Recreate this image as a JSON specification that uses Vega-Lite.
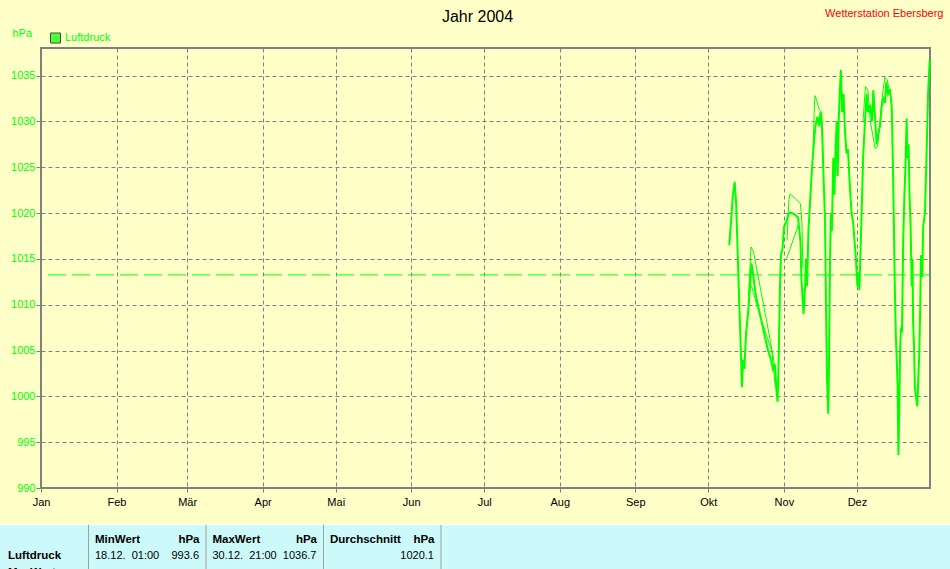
{
  "$schema": "https://vega.github.io/schema/vega-lite/v6.json",
  "width": 889,
  "height": 440,
  "autosize": {"type": "none"},
  "padding": {"left": 41, "top": 48, "right": 20, "bottom": 81},
  "background": "#FFFFC8",
  "config": {
    "font": "Liberation Sans",
    "view": {"stroke": "#808080", "strokeWidth": 2, "fill": "#FFFFC8"}
  },
  "datasets": {
    "main": [
      {"t": "2004-10-09 14:00", "p": 1016.5, "s": "Luftdruck"},
      {"t": "2004-10-10 07:00", "p": 1019, "s": "Luftdruck"},
      {"t": "2004-10-11 02:00", "p": 1022, "s": "Luftdruck"},
      {"t": "2004-10-11 19:00", "p": 1023.4, "s": "Luftdruck"},
      {"t": "2004-10-12 10:00", "p": 1021, "s": "Luftdruck"},
      {"t": "2004-10-13 00:00", "p": 1016, "s": "Luftdruck"},
      {"t": "2004-10-13 14:00", "p": 1011, "s": "Luftdruck"},
      {"t": "2004-10-14 05:00", "p": 1006, "s": "Luftdruck"},
      {"t": "2004-10-14 19:00", "p": 1001, "s": "Luftdruck"},
      {"t": "2004-10-15 05:00", "p": 1004, "s": "Luftdruck"},
      {"t": "2004-10-15 19:00", "p": 1003, "s": "Luftdruck"},
      {"t": "2004-10-16 12:00", "p": 1007, "s": "Luftdruck"},
      {"t": "2004-10-17 07:00", "p": 1009, "s": "Luftdruck"},
      {"t": "2004-10-18 02:00", "p": 1012, "s": "Luftdruck"},
      {"t": "2004-10-18 17:00", "p": 1014.5, "s": "Luftdruck"},
      {"t": "2004-10-19 07:00", "p": 1013.5, "s": "Luftdruck"},
      {"t": "2004-10-20 12:00", "p": 1011, "s": "Luftdruck"},
      {"t": "2004-10-21 17:00", "p": 1009.5, "s": "Luftdruck"},
      {"t": "2004-10-23 00:00", "p": 1008, "s": "Luftdruck"},
      {"t": "2004-10-24 05:00", "p": 1006.5, "s": "Luftdruck"},
      {"t": "2004-10-25 12:00", "p": 1005, "s": "Luftdruck"},
      {"t": "2004-10-26 17:00", "p": 1004, "s": "Luftdruck"},
      {"t": "2004-10-27 12:00", "p": 1003, "s": "Luftdruck"},
      {"t": "2004-10-28 07:00", "p": 1003.5, "s": "Luftdruck"},
      {"t": "2004-10-29 00:00", "p": 1000.5, "s": "Luftdruck"},
      {"t": "2004-10-29 10:00", "p": 999.4, "s": "Luftdruck"},
      {"t": "2004-10-29 19:00", "p": 1003, "s": "Luftdruck"},
      {"t": "2004-10-30 10:00", "p": 1012, "s": "Luftdruck"},
      {"t": "2004-10-30 19:00", "p": 1015.5, "s": "Luftdruck"},
      {"t": "2004-10-31 10:00", "p": 1016, "s": "Luftdruck"},
      {"t": "2004-11-01 02:00", "p": 1018.5, "s": "Luftdruck"},
      {"t": "2004-11-01 22:00", "p": 1019, "s": "Luftdruck"},
      {"t": "2004-11-03 00:00", "p": 1020, "s": "Luftdruck"},
      {"t": "2004-11-04 07:00", "p": 1020, "s": "Luftdruck"},
      {"t": "2004-11-05 14:00", "p": 1019.8, "s": "Luftdruck"},
      {"t": "2004-11-06 19:00", "p": 1019.5, "s": "Luftdruck"},
      {"t": "2004-11-07 19:00", "p": 1017, "s": "Luftdruck"},
      {"t": "2004-11-08 05:00", "p": 1012.7, "s": "Luftdruck"},
      {"t": "2004-11-09 02:00", "p": 1009, "s": "Luftdruck"},
      {"t": "2004-11-09 17:00", "p": 1012, "s": "Luftdruck"},
      {"t": "2004-11-10 02:00", "p": 1015, "s": "Luftdruck"},
      {"t": "2004-11-10 12:00", "p": 1012, "s": "Luftdruck"},
      {"t": "2004-11-11 02:00", "p": 1018, "s": "Luftdruck"},
      {"t": "2004-11-11 17:00", "p": 1021, "s": "Luftdruck"},
      {"t": "2004-11-12 14:00", "p": 1025, "s": "Luftdruck"},
      {"t": "2004-11-13 10:00", "p": 1028, "s": "Luftdruck"},
      {"t": "2004-11-14 00:00", "p": 1029.5, "s": "Luftdruck"},
      {"t": "2004-11-14 19:00", "p": 1030.5, "s": "Luftdruck"},
      {"t": "2004-11-15 10:00", "p": 1029.5, "s": "Luftdruck"},
      {"t": "2004-11-16 02:00", "p": 1031, "s": "Luftdruck"},
      {"t": "2004-11-16 17:00", "p": 1029, "s": "Luftdruck"},
      {"t": "2004-11-17 07:00", "p": 1024, "s": "Luftdruck"},
      {"t": "2004-11-17 22:00", "p": 1019, "s": "Luftdruck"},
      {"t": "2004-11-18 07:00", "p": 1010, "s": "Luftdruck"},
      {"t": "2004-11-18 17:00", "p": 1002, "s": "Luftdruck"},
      {"t": "2004-11-19 05:00", "p": 998.1, "s": "Luftdruck"},
      {"t": "2004-11-19 12:00", "p": 1003, "s": "Luftdruck"},
      {"t": "2004-11-19 22:00", "p": 1014, "s": "Luftdruck"},
      {"t": "2004-11-20 07:00", "p": 1020, "s": "Luftdruck"},
      {"t": "2004-11-20 17:00", "p": 1018, "s": "Luftdruck"},
      {"t": "2004-11-21 07:00", "p": 1026, "s": "Luftdruck"},
      {"t": "2004-11-21 19:00", "p": 1022, "s": "Luftdruck"},
      {"t": "2004-11-22 05:00", "p": 1027, "s": "Luftdruck"},
      {"t": "2004-11-22 17:00", "p": 1030, "s": "Luftdruck"},
      {"t": "2004-11-23 02:00", "p": 1024, "s": "Luftdruck"},
      {"t": "2004-11-23 12:00", "p": 1030, "s": "Luftdruck"},
      {"t": "2004-11-23 22:00", "p": 1033, "s": "Luftdruck"},
      {"t": "2004-11-24 10:00", "p": 1035.6, "s": "Luftdruck"},
      {"t": "2004-11-24 22:00", "p": 1031, "s": "Luftdruck"},
      {"t": "2004-11-25 12:00", "p": 1033, "s": "Luftdruck"},
      {"t": "2004-11-26 02:00", "p": 1029, "s": "Luftdruck"},
      {"t": "2004-11-26 17:00", "p": 1026.5, "s": "Luftdruck"},
      {"t": "2004-11-27 07:00", "p": 1027, "s": "Luftdruck"},
      {"t": "2004-11-28 02:00", "p": 1023, "s": "Luftdruck"},
      {"t": "2004-11-28 19:00", "p": 1020, "s": "Luftdruck"},
      {"t": "2004-11-29 10:00", "p": 1019, "s": "Luftdruck"},
      {"t": "2004-11-30 00:00", "p": 1017, "s": "Luftdruck"},
      {"t": "2004-11-30 14:00", "p": 1015, "s": "Luftdruck"},
      {"t": "2004-12-01 05:00", "p": 1012, "s": "Luftdruck"},
      {"t": "2004-12-01 14:00", "p": 1013.5, "s": "Luftdruck"},
      {"t": "2004-12-02 00:00", "p": 1011.6, "s": "Luftdruck"},
      {"t": "2004-12-02 12:00", "p": 1016, "s": "Luftdruck"},
      {"t": "2004-12-02 22:00", "p": 1020, "s": "Luftdruck"},
      {"t": "2004-12-03 14:00", "p": 1026.3, "s": "Luftdruck"},
      {"t": "2004-12-04 07:00", "p": 1030, "s": "Luftdruck"},
      {"t": "2004-12-05 00:00", "p": 1033, "s": "Luftdruck"},
      {"t": "2004-12-05 12:00", "p": 1031, "s": "Luftdruck"},
      {"t": "2004-12-06 10:00", "p": 1031.8, "s": "Luftdruck"},
      {"t": "2004-12-07 05:00", "p": 1030, "s": "Luftdruck"},
      {"t": "2004-12-07 17:00", "p": 1033.4, "s": "Luftdruck"},
      {"t": "2004-12-08 10:00", "p": 1030.5, "s": "Luftdruck"},
      {"t": "2004-12-09 02:00", "p": 1027.5, "s": "Luftdruck"},
      {"t": "2004-12-09 14:00", "p": 1028.5, "s": "Luftdruck"},
      {"t": "2004-12-10 12:00", "p": 1029.5, "s": "Luftdruck"},
      {"t": "2004-12-11 02:00", "p": 1031.5, "s": "Luftdruck"},
      {"t": "2004-12-11 19:00", "p": 1032.5, "s": "Luftdruck"},
      {"t": "2004-12-12 12:00", "p": 1032, "s": "Luftdruck"},
      {"t": "2004-12-13 02:00", "p": 1034.3, "s": "Luftdruck"},
      {"t": "2004-12-13 19:00", "p": 1033, "s": "Luftdruck"},
      {"t": "2004-12-14 14:00", "p": 1033.5, "s": "Luftdruck"},
      {"t": "2004-12-15 07:00", "p": 1031.5, "s": "Luftdruck"},
      {"t": "2004-12-15 19:00", "p": 1025, "s": "Luftdruck"},
      {"t": "2004-12-16 05:00", "p": 1018, "s": "Luftdruck"},
      {"t": "2004-12-16 14:00", "p": 1011.5, "s": "Luftdruck"},
      {"t": "2004-12-17 00:00", "p": 1006.3, "s": "Luftdruck"},
      {"t": "2004-12-17 07:00", "p": 1004.5, "s": "Luftdruck"},
      {"t": "2004-12-17 17:00", "p": 1001, "s": "Luftdruck"},
      {"t": "2004-12-18 01:00", "p": 993.6, "s": "Luftdruck"},
      {"t": "2004-12-18 10:00", "p": 999, "s": "Luftdruck"},
      {"t": "2004-12-18 17:00", "p": 1005, "s": "Luftdruck"},
      {"t": "2004-12-19 02:00", "p": 1007.5, "s": "Luftdruck"},
      {"t": "2004-12-19 12:00", "p": 1007, "s": "Luftdruck"},
      {"t": "2004-12-20 00:00", "p": 1017, "s": "Luftdruck"},
      {"t": "2004-12-20 12:00", "p": 1022, "s": "Luftdruck"},
      {"t": "2004-12-20 22:00", "p": 1025, "s": "Luftdruck"},
      {"t": "2004-12-21 10:00", "p": 1030.3, "s": "Luftdruck"},
      {"t": "2004-12-21 17:00", "p": 1026, "s": "Luftdruck"},
      {"t": "2004-12-22 05:00", "p": 1027.5, "s": "Luftdruck"},
      {"t": "2004-12-22 14:00", "p": 1022, "s": "Luftdruck"},
      {"t": "2004-12-23 00:00", "p": 1019, "s": "Luftdruck"},
      {"t": "2004-12-23 12:00", "p": 1012, "s": "Luftdruck"},
      {"t": "2004-12-23 19:00", "p": 1015, "s": "Luftdruck"},
      {"t": "2004-12-24 02:00", "p": 1008, "s": "Luftdruck"},
      {"t": "2004-12-24 12:00", "p": 1005, "s": "Luftdruck"},
      {"t": "2004-12-24 19:00", "p": 1001, "s": "Luftdruck"},
      {"t": "2004-12-25 05:00", "p": 1000, "s": "Luftdruck"},
      {"t": "2004-12-25 19:00", "p": 998.9, "s": "Luftdruck"},
      {"t": "2004-12-26 05:00", "p": 1002, "s": "Luftdruck"},
      {"t": "2004-12-26 14:00", "p": 1004.5, "s": "Luftdruck"},
      {"t": "2004-12-27 00:00", "p": 1010, "s": "Luftdruck"},
      {"t": "2004-12-27 07:00", "p": 1015.4, "s": "Luftdruck"},
      {"t": "2004-12-27 19:00", "p": 1013, "s": "Luftdruck"},
      {"t": "2004-12-28 05:00", "p": 1018.5, "s": "Luftdruck"},
      {"t": "2004-12-28 22:00", "p": 1020, "s": "Luftdruck"},
      {"t": "2004-12-29 14:00", "p": 1026.3, "s": "Luftdruck"},
      {"t": "2004-12-30 05:00", "p": 1033, "s": "Luftdruck"},
      {"t": "2004-12-30 21:00", "p": 1036.7, "s": "Luftdruck"}
    ],
    "thin": [
      {"t": "2004-10-17 12:00", "p": 1011, "seg": "A"},
      {"t": "2004-10-18 12:00", "p": 1016.3, "seg": "A"},
      {"t": "2004-10-19 12:00", "p": 1015.8, "seg": "A"},
      {"t": "2004-10-21 12:00", "p": 1013, "seg": "A"},
      {"t": "2004-10-23 12:00", "p": 1010.2, "seg": "A"},
      {"t": "2004-10-25 12:00", "p": 1007.4, "seg": "A"},
      {"t": "2004-10-27 12:00", "p": 1004.5, "seg": "A"},
      {"t": "2004-10-28 07:00", "p": 1003.1, "seg": "A"},
      {"t": "2004-10-28 20:00", "p": 1001.5, "seg": "A"},
      {"t": "2004-10-18 15:00", "p": 1012.1, "seg": "B"},
      {"t": "2004-10-22 12:00", "p": 1008.5, "seg": "B"},
      {"t": "2004-10-27 02:00", "p": 1004.9, "seg": "B"},
      {"t": "2004-10-28 12:00", "p": 1001, "seg": "B"},
      {"t": "2004-11-02 07:00", "p": 1017, "seg": "C"},
      {"t": "2004-11-03 02:00", "p": 1021.5, "seg": "C"},
      {"t": "2004-11-03 14:00", "p": 1022.1, "seg": "C"},
      {"t": "2004-11-05 14:00", "p": 1021.6, "seg": "C"},
      {"t": "2004-11-07 19:00", "p": 1021, "seg": "C"},
      {"t": "2004-11-08 10:00", "p": 1019, "seg": "C"},
      {"t": "2004-11-08 19:00", "p": 1014, "seg": "C"},
      {"t": "2004-11-02 02:00", "p": 1015, "seg": "D"},
      {"t": "2004-11-07 02:00", "p": 1018.8, "seg": "D"},
      {"t": "2004-11-13 00:00", "p": 1027, "seg": "E"},
      {"t": "2004-11-13 14:00", "p": 1032, "seg": "E"},
      {"t": "2004-11-13 19:00", "p": 1032.8, "seg": "E"},
      {"t": "2004-11-14 14:00", "p": 1032.2, "seg": "E"},
      {"t": "2004-11-15 14:00", "p": 1031.2, "seg": "E"},
      {"t": "2004-11-16 14:00", "p": 1031, "seg": "E"},
      {"t": "2004-11-17 02:00", "p": 1025, "seg": "E"},
      {"t": "2004-12-03 12:00", "p": 1030, "seg": "F"},
      {"t": "2004-12-04 12:00", "p": 1033.8, "seg": "F"},
      {"t": "2004-12-05 12:00", "p": 1033.4, "seg": "F"},
      {"t": "2004-12-06 12:00", "p": 1030, "seg": "F"},
      {"t": "2004-12-07 12:00", "p": 1028.5, "seg": "F"},
      {"t": "2004-12-08 12:00", "p": 1027, "seg": "F"},
      {"t": "2004-12-09 12:00", "p": 1027.3, "seg": "F"},
      {"t": "2004-12-10 12:00", "p": 1030, "seg": "F"},
      {"t": "2004-12-11 12:00", "p": 1033, "seg": "F"},
      {"t": "2004-12-12 12:00", "p": 1034.8, "seg": "F"},
      {"t": "2004-12-13 12:00", "p": 1034.5, "seg": "F"},
      {"t": "2004-12-14 12:00", "p": 1033, "seg": "F"}
    ],
    "tab": [
      {"txt": "MinWert", "col": 1, "row": 1, "k": "hl"},
      {"txt": "MaxWert", "col": 2, "row": 1, "k": "hl"},
      {"txt": "Durchschnitt", "col": 3, "row": 1, "k": "hl"},
      {"txt": "hPa", "col": 2, "row": 1, "k": "hr"},
      {"txt": "hPa", "col": 3, "row": 1, "k": "hr"},
      {"txt": "hPa", "col": 4, "row": 1, "k": "hr"},
      {"txt": "Luftdruck", "col": 0, "row": 2, "k": "rl"},
      {"txt": "MaxWert", "col": 0, "row": 3, "k": "rl"},
      {"txt": "18.12.\u00a0 01:00", "col": 1, "row": 2, "k": "vl"},
      {"txt": "30.12.\u00a0 21:00", "col": 2, "row": 2, "k": "vl"},
      {"txt": "993.6", "col": 2, "row": 2, "k": "vr"},
      {"txt": "1036.7", "col": 3, "row": 2, "k": "vr"},
      {"txt": "1020.1", "col": 4, "row": 2, "k": "vr"}
    ],
    "sep": [
      {"col": 1}, {"col": 2}, {"col": 3}, {"col": 4}
    ]
  },
  "layer": [
    {
      "layer": [
        {
          "data": {"name": "main"},
          "mark": {"type": "line", "strokeWidth": 2, "interpolate": "linear", "color": "#00FF00"},
          "encoding": {
            "x": {
              "field": "t", "type": "temporal",
              "scale": {"domain": [{"year": 2004, "month": 1, "date": 1}, {"year": 2004, "month": 12, "date": 31}]},
              "axis": {
                "title": null,
                "values": [
                  {"year": 2004, "month": 1, "date": 1}, {"year": 2004, "month": 2, "date": 1},
                  {"year": 2004, "month": 3, "date": 1}, {"year": 2004, "month": 4, "date": 1},
                  {"year": 2004, "month": 5, "date": 1}, {"year": 2004, "month": 6, "date": 1},
                  {"year": 2004, "month": 7, "date": 1}, {"year": 2004, "month": 8, "date": 1},
                  {"year": 2004, "month": 9, "date": 1}, {"year": 2004, "month": 10, "date": 1},
                  {"year": 2004, "month": 11, "date": 1}, {"year": 2004, "month": 12, "date": 1}
                ],
                "labelExpr": "['Jan','Feb','Mär','Apr','Mai','Jun','Jul','Aug','Sep','Okt','Nov','Dez'][month(datum.value)]",
                "domain": false,
                "grid": true, "gridColor": "#808080", "gridDash": [4, 3], "gridWidth": 1, "gridOpacity": 1,
                "ticks": true, "tickColor": "#808080", "tickSize": 4, "tickWidth": 1,
                "labelPadding": 4, "labelFontSize": 11, "labelColor": "#000000",
                "labelFlush": false, "labelOverlap": false, "labelBaseline": "top"
              }
            },
            "y": {
              "field": "p", "type": "quantitative",
              "scale": {"domain": [990, 1038], "nice": false, "zero": false},
              "axis": {
                "values": [990, 995, 1000, 1005, 1010, 1015, 1020, 1025, 1030, 1035],
                "format": "d",
                "domain": false,
                "grid": true, "gridColor": "#808080", "gridDash": [4, 3], "gridWidth": 1, "gridOpacity": 1,
                "ticks": true, "tickColor": "#808080", "tickSize": 5, "tickWidth": 1,
                "labelPadding": 1, "labelFontSize": 11, "labelColor": "#00FF00",
                "labelFlush": false, "labelOverlap": false,
                "title": "hPa", "titleAngle": 0, "titleX": -29, "titleY": -15,
                "titleAlign": "left", "titleBaseline": "middle",
                "titleColor": "#00FF00", "titleFontSize": 11, "titleFontWeight": "normal"
              }
            }
          }
        },
        {
          "data": {"name": "thin"},
          "mark": {"type": "line", "strokeWidth": 1, "color": "#00FF00"},
          "encoding": {
            "x": {"field": "t", "type": "temporal"},
            "y": {"field": "p", "type": "quantitative"},
            "detail": {"field": "seg", "type": "nominal"}
          }
        },
        {
          "data": {"name": "main"},
          "transform": [{"filter": "false"}],
          "mark": {"type": "square", "filled": true, "stroke": "#000000", "strokeWidth": 1, "size": 100},
          "encoding": {
            "x": {"field": "t", "type": "temporal"},
            "y": {"field": "p", "type": "quantitative"},
            "fill": {
              "field": "s", "type": "nominal",
              "scale": {"domain": ["Luftdruck"], "range": ["#00FF00"]},
              "legend": {
                "title": null, "orient": "none", "legendX": 9, "legendY": -15.5,
                "padding": 0, "symbolType": "square", "symbolSize": 100, "symbolStrokeWidth": 1,
                "labelFontSize": 11, "labelColor": "#00FF00", "labelOffset": 4
              }
            }
          }
        },
        {
          "data": {"values": [{}]},
          "mark": {"type": "rule", "color": "#00FF00", "strokeWidth": 1, "strokeDash": [18, 6]},
          "encoding": {"y": {"datum": 1013.25, "type": "quantitative"}}
        }
      ]
    },
    {
      "layer": [
        {
          "data": {"values": [{}]},
          "mark": {"type": "rect", "color": "#CCFAFA", "stroke": "#FFFFFF", "strokeWidth": 1},
          "encoding": {
            "x": {
              "datum": 0, "type": "quantitative",
              "scale": {"domain": [0, 9], "range": [-70, 987.5], "nice": false, "zero": false},
              "axis": {
                "orient": "top", "domain": false, "ticks": false, "labels": false, "grid": false,
                "title": "Jahr 2004", "titleX": 436, "titleY": -27,
                "titleAlign": "center", "titleBaseline": "alphabetic",
                "titleFontSize": 16, "titleFontWeight": "normal", "titleColor": "#000000"
              }
            },
            "x2": {"datum": 9},
            "y": {
              "datum": -0.1, "type": "quantitative",
              "scale": {"domain": [0, 3], "range": [478.5, 527.5], "nice": false, "zero": false},
              "axis": {
                "orient": "right", "domain": false, "ticks": false, "labels": false, "grid": false,
                "title": "Wetterstation Ebersberg", "titleAngle": 0, "titleX": 13, "titleY": -31.5,
                "titleAlign": "right", "titleBaseline": "alphabetic",
                "titleFontSize": 11, "titleFontWeight": "normal", "titleColor": "#FF0000"
              }
            },
            "y2": {"datum": 4}
          }
        },
        {
          "data": {"name": "sep"},
          "mark": {"type": "rule", "color": "#A0A0A0", "strokeWidth": 1},
          "encoding": {
            "x": {"field": "col", "type": "quantitative"},
            "y": {"datum": -0.1, "type": "quantitative"},
            "y2": {"datum": 4}
          }
        },
        {
          "data": {"name": "tab"},
          "transform": [{"filter": "datum.k === 'hl'"}],
          "mark": {"type": "text", "align": "left", "baseline": "alphabetic", "dx": 6.5, "fontSize": 11.5, "fontWeight": "bold", "color": "#000000"},
          "encoding": {
            "x": {"field": "col", "type": "quantitative"},
            "y": {"field": "row", "type": "quantitative"},
            "text": {"field": "txt"}
          }
        },
        {
          "data": {"name": "tab"},
          "transform": [{"filter": "datum.k === 'hr'"}],
          "mark": {"type": "text", "align": "right", "baseline": "alphabetic", "dx": -6.5, "fontSize": 11.5, "fontWeight": "bold", "color": "#000000"},
          "encoding": {
            "x": {"field": "col", "type": "quantitative"},
            "y": {"field": "row", "type": "quantitative"},
            "text": {"field": "txt"}
          }
        },
        {
          "data": {"name": "tab"},
          "transform": [{"filter": "datum.k === 'rl'"}],
          "mark": {"type": "text", "align": "left", "baseline": "alphabetic", "dx": 37, "fontSize": 11.5, "fontWeight": "bold", "color": "#000000"},
          "encoding": {
            "x": {"field": "col", "type": "quantitative"},
            "y": {"field": "row", "type": "quantitative"},
            "text": {"field": "txt"}
          }
        },
        {
          "data": {"name": "tab"},
          "transform": [{"filter": "datum.k === 'vl'"}],
          "mark": {"type": "text", "align": "left", "baseline": "alphabetic", "dx": 6.5, "fontSize": 11, "color": "#000000"},
          "encoding": {
            "x": {"field": "col", "type": "quantitative"},
            "y": {"field": "row", "type": "quantitative"},
            "text": {"field": "txt"}
          }
        },
        {
          "data": {"name": "tab"},
          "transform": [{"filter": "datum.k === 'vr'"}],
          "mark": {"type": "text", "align": "right", "baseline": "alphabetic", "dx": -7, "fontSize": 11, "color": "#000000"},
          "encoding": {
            "x": {"field": "col", "type": "quantitative"},
            "y": {"field": "row", "type": "quantitative"},
            "text": {"field": "txt"}
          }
        }
      ]
    }
  ],
  "resolve": {"scale": {"x": "independent", "y": "independent"}}
}
